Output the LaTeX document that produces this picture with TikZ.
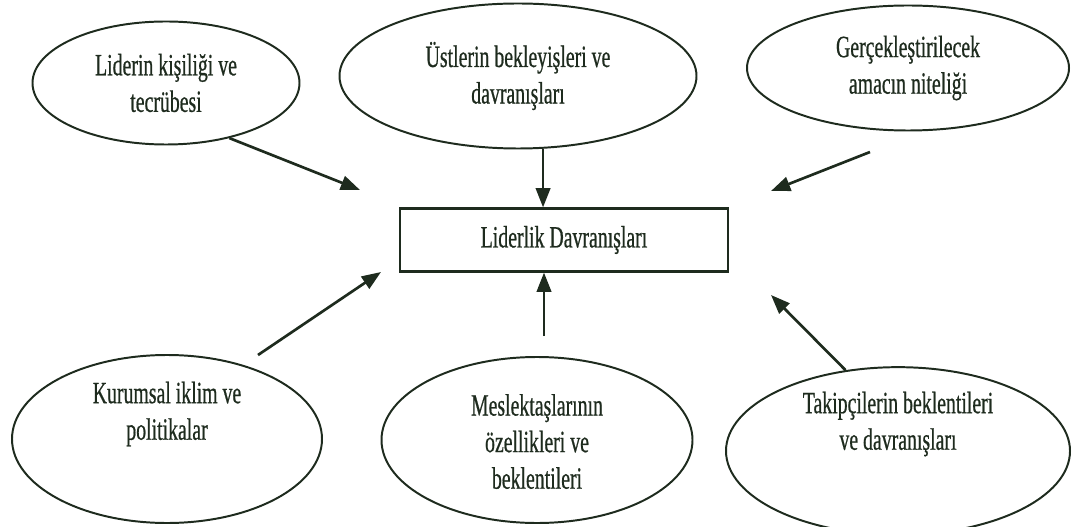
\documentclass[tikz,border=0pt]{standalone}
\usepackage{fontspec}
\setmainfont[FakeStretch=0.64,FakeBold=0.6]{Liberation Serif}
\usetikzlibrary{shapes.geometric,arrows.meta}
\definecolor{ink}{HTML}{1E2B1E}

\begin{document}
\begin{tikzpicture}[
    every node/.style={font=\fontsize{22}{26}\selectfont, text=ink},
    factor/.style={ellipse, draw=ink, line width=1.4pt, inner sep=0pt, align=center},
    core/.style={rectangle, draw=ink, line width=1.6pt, minimum width=8.2cm, minimum height=1.575cm},
    arr/.style={draw=ink, line width=1.9pt, -{Triangle[length=0.48cm,width=0.36cm]}}
]
\useasboundingbox (0,0) rectangle (26.8,-13.175);

% Central box
\node[core] (box) at (14.1,-6.0) {Liderlik Davranışları};

% Factors above
\node[factor, minimum width=6.675cm, minimum height=3.075cm] (kisilik) at (4.15,-2.075) {Liderin kişiliği ve\\tecrübesi};
\node[factor, minimum width=8.925cm, minimum height=3.625cm] (ustler) at (12.95,-1.9) {Üstlerin bekleyişleri ve\\davranışları};
\node[factor, minimum width=8.05cm, minimum height=3.125cm] (amac) at (22.7,-1.7) {Gerçekleştirilecek\\amacın niteliği};

% Factors below
\node[factor, minimum width=7.75cm, minimum height=4.2cm] (iklim) at (4.175,-10.975) {Kurumsal iklim ve\\politikalar\\[0.5cm]};
\node[factor, minimum width=7.775cm, minimum height=4.15cm] (meslek) at (13.425,-11.0) {\\[-0.3cm]Meslektaşlarının\\özellikleri ve\\beklentileri};
\node[factor, minimum width=8.6cm, minimum height=3.575cm] (takip) at (22.45,-11.275) {Takipçilerin beklentileri\\ve davranışları\\[0.6cm]};

% Free ends of the arrows
\coordinate (t1) at (9.0,-4.75);
\coordinate (s3) at (21.75,-3.8);
\coordinate (t3) at (19.275,-4.775);
\coordinate (s4) at (6.45,-8.875);
\coordinate (t4) at (9.525,-6.8);
\coordinate (s5) at (13.6,-8.4);
\coordinate (t6) at (19.275,-7.375);

% Arrows into the box
\draw[arr] (kisilik.-41) -- (t1);
\draw[arr] (ustler.-71) -- (ustler.-71 |- box.north);
\draw[arr] (s3) -- (t3);
\draw[arr] (s4) -- (t4);
\draw[arr] (s5) -- (s5 |- box.south);
\draw[arr] (takip.123) -- (t6);

\end{tikzpicture}
\end{document}
